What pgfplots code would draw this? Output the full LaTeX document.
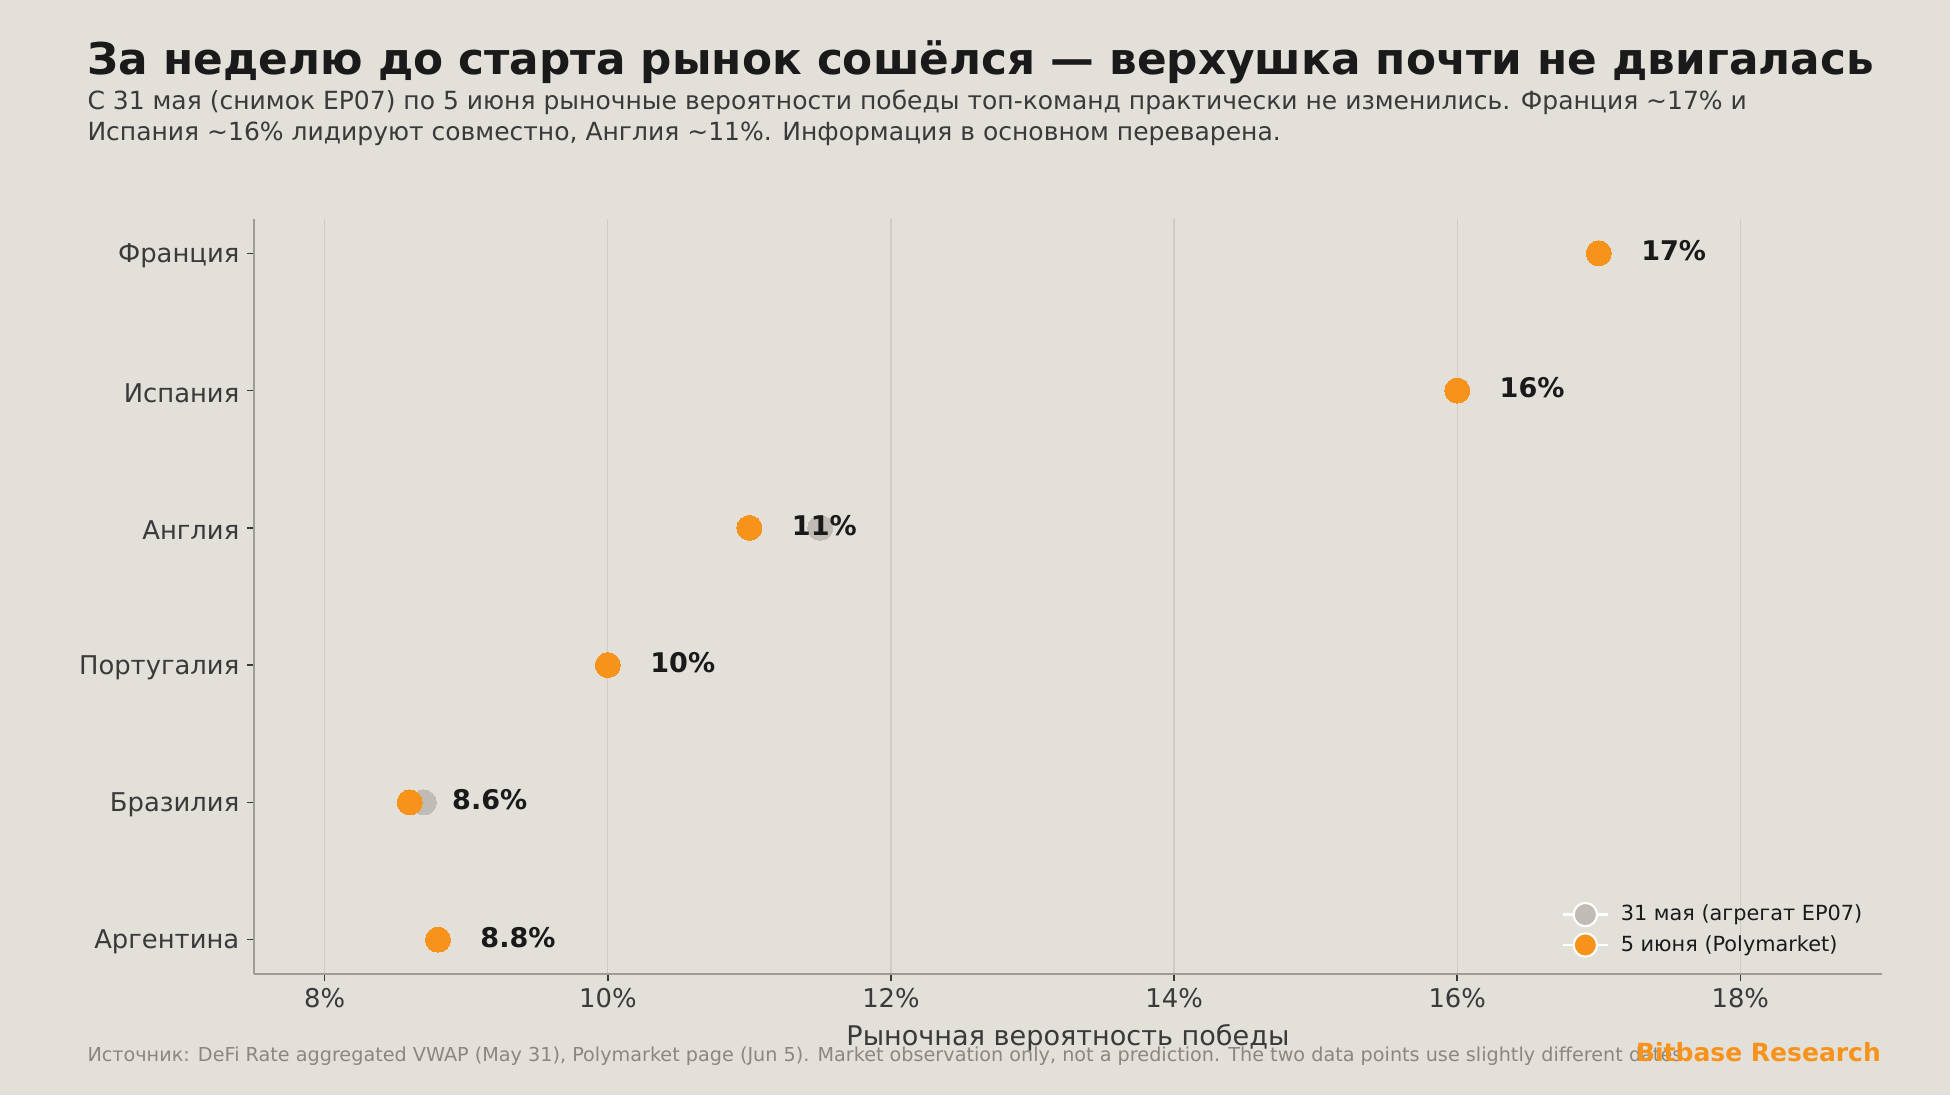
\documentclass[border=0pt]{standalone}
\usepackage{fontspec}
\setmainfont{DejaVu Sans}
\usepackage{pgfplots}
\pgfplotsset{compat=1.18}
\usepackage{pgfplotstable}

\definecolor{bg}{HTML}{E3E0DA}
\definecolor{btc}{HTML}{F7931A}
\definecolor{may}{HTML}{C0BCB5}
\definecolor{gridc}{HTML}{CFCBC5}
\definecolor{spine}{HTML}{9E9A95}
\definecolor{ink}{HTML}{1A1A1A}
\definecolor{tickc}{HTML}{3A3A3A}
\definecolor{foot}{HTML}{8A8680}

% y: 0 = Аргентина ... 5 = Франция; x in percent
\pgfplotstableread{
y x
5 17
4 16
3 11.5
2 10
1 8.7
0 8.8
}\maydata

\pgfplotstableread{
y x lab
5 17 17
4 16 16
3 11 11
2 10 10
1 8.6 8.6
0 8.8 8.8
}\junedata

\begin{document}
\begin{tikzpicture}
\fill[bg] (0,0) rectangle (936pt,525.6pt);
\useasboundingbox (0,0) rectangle (936pt,525.6pt);

\node[anchor=base west, inner sep=0, text=ink, font=\fontsize{21}{25}\selectfont\bfseries]
  at (41.8pt,489.8pt) {За неделю до старта рынок сошёлся — верхушка почти не двигалась};
\node[anchor=base west, inner sep=0, text=tickc, font=\fontsize{12}{14}\selectfont]
  at (41.8pt,473pt) {С 31 мая (снимок EP07) по 5 июня рыночные вероятности победы топ-команд практически не изменились. Франция \textasciitilde17\% и};
\node[anchor=base west, inner sep=0, text=tickc, font=\fontsize{12}{14}\selectfont]
  at (41.8pt,458pt) {Испания \textasciitilde16\% лидируют совместно, Англия \textasciitilde11\%. Информация в основном переварена.};

\begin{axis}[
  at={(121.9pt,58.1pt)}, anchor=south west,
  scale only axis, width=781.4pt, height=362.4pt,
  xmin=7.5, xmax=19, ymin=-0.25, ymax=5.25,
  axis x line*=bottom, axis y line*=left,
  axis line style={spine, line width=0.8pt},
  ytick={0,1,2,3,4,5},
  yticklabels={Аргентина,Бразилия,Португалия,Англия,Испания,Франция},
  xtick={8,10,12,14,16,18},
  xticklabels={8\%,10\%,12\%,14\%,16\%,18\%},
  xmajorgrids, grid style={gridc, line width=0.6pt},
  tick align=outside, major tick length=3.5pt,
  tick style={tickc, line width=0.7pt},
  ticklabel style={text=tickc, font=\fontsize{12.4}{14}\selectfont},
  yticklabel style={yshift=-1.2pt},
  legend style={at={(0.9946,0.0142)}, anchor=south east, draw=none, fill=none,
    font=\fontsize{10}{12}\selectfont, text=ink, row sep=1.5pt,
    /tikz/every odd column/.append style={column sep=3.6pt}},
  legend cell align=left,
  clip=false,
]
\addplot[color=may, only marks, mark=*, mark size=6pt, mark options={draw=may, line width=0pt, fill=may},
  legend image code/.code={
    \draw[white, line width=1.2pt] (0pt,0pt) -- (21.6pt,0pt);
    \filldraw[fill=may, draw=white, line width=1pt] (10.8pt,0pt) circle (5.6pt);}]
  table[x=x, y=y] {\maydata};
\addlegendentry{31 мая (агрегат EP07)}

\addplot[color=btc, only marks, mark=*, mark size=6pt, mark options={draw=btc, line width=0pt, fill=btc},
  point meta=explicit symbolic,
  nodes near coords={\pgfplotspointmeta\%},
  nodes near coords style={anchor=west, inner sep=0pt, xshift=20.4pt, yshift=1.2pt,
    text=ink, font=\fontsize{13}{15}\selectfont\bfseries},
  legend image code/.code={
    \draw[white, line width=1.2pt] (0pt,0pt) -- (21.6pt,0pt);
    \filldraw[fill=btc, draw=white, line width=1pt] (10.8pt,0pt) circle (5.6pt);}]
  table[x=x, y=y, meta=lab] {\junedata};
\addlegendentry{5 июня (Polymarket)}
\end{axis}

\node[anchor=base, inner sep=0, text=tickc, font=\fontsize{13}{15}\selectfont]
  at (512.6pt,23.6pt) {Рыночная вероятность победы};
\node[anchor=base west, inner sep=0, text=foot, font=\fontsize{9.22}{11}\selectfont]
  at (41.8pt,16.3pt) {Источник: DeFi Rate aggregated VWAP (May 31), Polymarket page (Jun 5). Market observation only, not a prediction. The two data points use slightly different dates.};
\node[anchor=base east, inner sep=0, text=btc, font=\fontsize{12}{14}\selectfont\bfseries]
  at (903pt,16.3pt) {Bitbase Research};
\end{tikzpicture}
\end{document}
